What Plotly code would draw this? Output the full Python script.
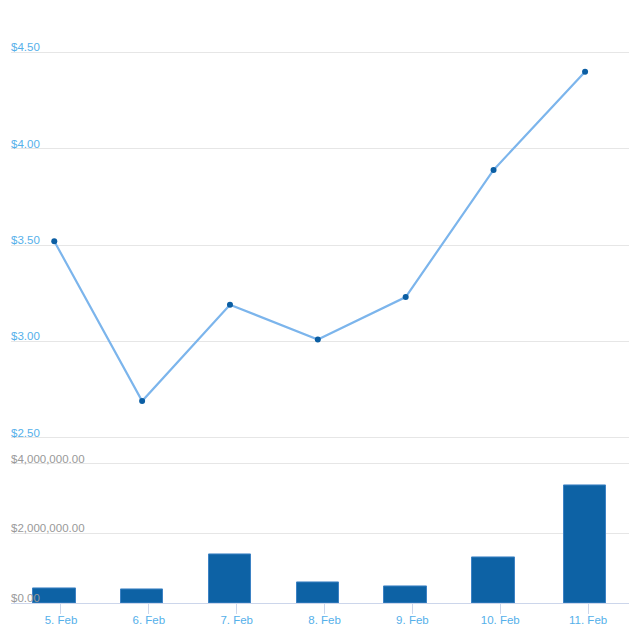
import plotly.graph_objects as go

# Data
dates = ["2019-02-04 22:10", "2019-02-05 22:10", "2019-02-06 22:10", "2019-02-07 22:10",
         "2019-02-08 22:10", "2019-02-09 22:10", "2019-02-10 23:10"]
prices = [3.52, 2.69, 3.19, 3.01, 3.23, 3.89, 4.40]
volumes = [410000, 380000, 1400000, 600000, 480000, 1300000, 3390000]
tick_days = ["2019-02-05", "2019-02-06", "2019-02-07", "2019-02-08",
             "2019-02-09", "2019-02-10", "2019-02-11"]
price_ticks = [2.5, 3.0, 3.5, 4.0, 4.5]
volume_ticks = [0, 2000000, 4000000]

FONT = "Liberation Sans, Arial, sans-serif"
FS = 11.5
LINE_COLOR = "#7cb5ec"
MARKER_COLOR = "#0b5ea3"
BAR_COLOR = "#0d62a5"
LABEL_BLUE = "#55b0ea"
LABEL_GRAY = "#999999"
GRID = "#e6e6e6"
AXIS = "#ccd6eb"

fig = go.Figure()
fig.add_trace(go.Scatter(
    x=dates, y=prices, mode="lines+markers",
    line=dict(color=LINE_COLOR, width=2.2),
    marker=dict(color=MARKER_COLOR, size=6),
    xaxis="x", yaxis="y", showlegend=False,
))
fig.add_trace(go.Bar(
    x=dates, y=volumes,
    width=0.4835 * 86400000,
    marker=dict(color=BAR_COLOR, line=dict(color="#3d82c4", width=1)),
    xaxis="x2", yaxis="y2", showlegend=False,
))

xrange = ["2019-02-04 10:21", "2019-02-11 11:10"]

fig.update_layout(
    width=640, height=640,
    margin=dict(l=11, r=11, t=10, b=37, autoexpand=False),
    paper_bgcolor="white", plot_bgcolor="white",
    font=dict(family=FONT, size=FS),
    bargap=0,
    xaxis=dict(domain=[0, 1], anchor="y", range=xrange, type="date",
               showticklabels=False, showgrid=False, showline=False, zeroline=False,
               matches="x2", tickvals=tick_days, automargin=False),
    yaxis=dict(domain=[0.2755, 1], anchor="x", range=[2.49, 4.72],
               tickvals=price_ticks, tickformat="$.2f",
               ticklabelposition="inside top", ticklabeloverflow="allow",
               ticklabelstandoff=-3, ticklabelshift=3,
               tickfont=dict(color=LABEL_BLUE, size=FS, family=FONT),
               showgrid=True, gridcolor=GRID, gridwidth=1,
               zeroline=False, showline=False, automargin=False),
    xaxis2=dict(domain=[0, 1], anchor="y2", range=xrange, type="date",
                tickvals=tick_days, tickformat="%-d. %b",
                ticks="outside", ticklen=10, tickcolor=AXIS, tickwidth=1,
                showline=True, linecolor=AXIS, linewidth=1,
                showgrid=False, zeroline=False, automargin=False,
                ticklabeloverflow="allow", ticklabelstandoff=-4,
                tickfont=dict(color=LABEL_BLUE, size=FS, family=FONT)),
    yaxis2=dict(domain=[0, 0.264], anchor="x2", range=[0, 4500000],
                tickvals=volume_ticks, tickformat="$,.2f",
                ticklabelposition="inside top", ticklabeloverflow="allow",
                ticklabelstandoff=-3, ticklabelshift=3,
                tickfont=dict(color=LABEL_GRAY, size=FS, family=FONT),
                showgrid=True, gridcolor=GRID, gridwidth=1,
                zeroline=False, showline=False, automargin=False),
)

fig.write_html("out.html", config={"displayModeBar": False},
               post_script="document.body.style.margin='0';")
